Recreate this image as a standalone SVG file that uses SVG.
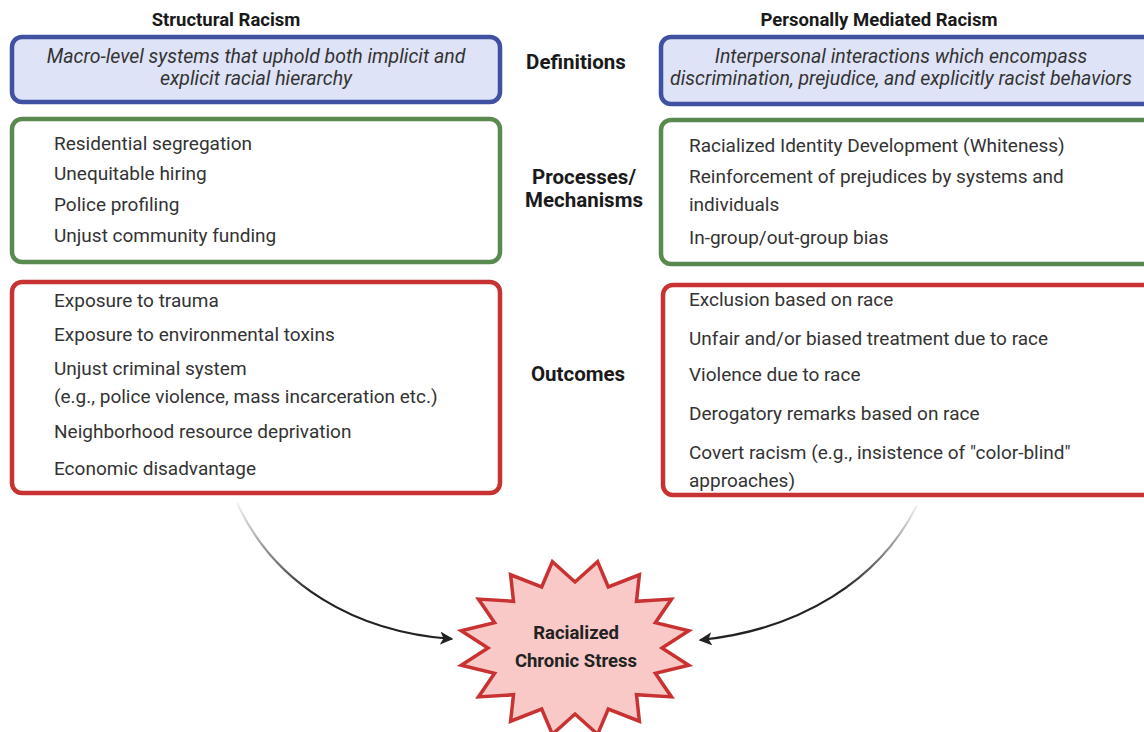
<svg xmlns="http://www.w3.org/2000/svg" width="1144" height="732" viewBox="0 0 1144 732">
<style>
.title{font-family:Roboto,"Liberation Sans",sans-serif;font-weight:bold;font-size:18.5px;fill:#1a1a1a;text-anchor:middle}
.mid{font-family:Roboto,"Liberation Sans",sans-serif;font-weight:bold;font-size:20.5px;fill:#1a1a1a;text-anchor:middle}
.it{font-family:Roboto,"Liberation Sans",sans-serif;font-style:italic;font-size:19.5px;fill:#333;text-anchor:middle}
.item{font-family:Roboto,"Liberation Sans",sans-serif;font-size:19px;fill:#333}
.blue{fill:#dfe3f7;stroke:#3f51a0;stroke-width:4.5}
.green{fill:#fff;stroke:#5a8a50;stroke-width:4.5}
.red{fill:#fff;stroke:#c83232;stroke-width:4.5}
.star{fill:#f8c9c6;stroke:#c83232;stroke-width:3.5;stroke-linejoin:miter}
.stxt{font-family:Roboto,"Liberation Sans",sans-serif;font-weight:bold;font-size:18.5px;fill:#222;text-anchor:middle}
.arr{fill:none;stroke-width:2.2}
</style>
<defs>
<marker id="ah" viewBox="0 0 10 10" refX="9" refY="5" markerWidth="6" markerHeight="6" orient="auto" markerUnits="strokeWidth">
<path d="M0,0 L10,5 L0,10 L2.5,5 Z" fill="#222"/>
</marker>
<linearGradient id="gl" gradientUnits="userSpaceOnUse" x1="237" y1="503" x2="320" y2="590">
<stop offset="0" stop-color="#f2f2f2"/><stop offset="1" stop-color="#222"/>
</linearGradient>
<linearGradient id="gr" gradientUnits="userSpaceOnUse" x1="917" y1="505" x2="845" y2="590">
<stop offset="0" stop-color="#f2f2f2"/><stop offset="1" stop-color="#222"/>
</linearGradient>
</defs>
<rect width="1144" height="732" fill="#fff"/>

<g id="headers">
<text class="title" x="226" y="26">Structural Racism</text>
<text class="title" x="879" y="26">Personally Mediated Racism</text>
</g>

<g id="labels">
<text class="mid" x="576" y="69">Definitions</text>
<text class="mid" x="584" y="184">Processes/</text>
<text class="mid" x="584" y="207">Mechanisms</text>
<text class="mid" x="578" y="381">Outcomes</text>
</g>

<g id="structural-definition">
<rect class="blue" x="12" y="37" width="488" height="65" rx="10"/>
<text class="it" x="256" y="63">Macro-level systems that uphold both implicit and</text>
<text class="it" x="256" y="85">explicit racial hierarchy</text>
</g>

<g id="personal-definition">
<rect class="blue" x="661" y="37" width="500" height="67" rx="10"/>
<text class="it" x="901" y="63">Interpersonal interactions which encompass</text>
<text class="it" x="901" y="85">discrimination, prejudice, and explicitly racist behaviors</text>
</g>

<g id="structural-processes">
<rect class="green" x="12" y="119" width="488" height="143" rx="10"/>
<text class="item" x="54" y="150">Residential segregation</text>
<text class="item" x="54" y="180">Unequitable hiring</text>
<text class="item" x="54" y="211">Police profiling</text>
<text class="item" x="54" y="242">Unjust community funding</text>
</g>

<g id="personal-processes">
<rect class="green" x="661" y="120" width="500" height="144" rx="10"/>
<text class="item" x="689" y="152">Racialized Identity Development (Whiteness)</text>
<text class="item" x="689" y="183">Reinforcement of prejudices by systems and</text>
<text class="item" x="689" y="211">individuals</text>
<text class="item" x="689" y="244">In-group/out-group bias</text>
</g>

<g id="structural-outcomes">
<rect class="red" x="12" y="282" width="488" height="211" rx="10"/>
<text class="item" x="54" y="307">Exposure to trauma</text>
<text class="item" x="54" y="341">Exposure to environmental toxins</text>
<text class="item" x="54" y="375">Unjust criminal system</text>
<text class="item" x="54" y="403">(e.g., police violence, mass incarceration etc.)</text>
<text class="item" x="54" y="438">Neighborhood resource deprivation</text>
<text class="item" x="54" y="475">Economic disadvantage</text>
</g>

<g id="personal-outcomes">
<rect class="red" x="663" y="285" width="500" height="210" rx="10"/>
<text class="item" x="689" y="306">Exclusion based on race</text>
<text class="item" x="689" y="345">Unfair and/or biased treatment due to race</text>
<text class="item" x="689" y="381">Violence due to race</text>
<text class="item" x="689" y="420">Derogatory remarks based on race</text>
<text class="item" x="689" y="459">Covert racism (e.g., insistence of "color-blind"</text>
<text class="item" x="689" y="487">approaches)</text>
</g>

<g id="connectors">
<path class="arr" stroke="url(#gl)" d="M237,503 C275,585 355,632 452,639" marker-end="url(#ah)"/>
<path class="arr" stroke="url(#gr)" d="M917,505 C880,580 800,630 700,640" marker-end="url(#ah)"/>
</g>

<g id="chronic-stress">
<polygon class="star" points="662,648 688.8,665.2 655.4,673.3 671.5,696.9 636.5,694.7 639.4,721.2 608.3,709 597.6,734.3 575,714 552.4,734.3 541.7,709 510.6,721.2 513.5,694.7 478.5,696.9 494.6,673.3 461.2,665.2 488,648 461.2,630.8 494.6,622.7 478.5,599.1 513.5,601.3 510.6,574.8 541.7,587 552.4,561.7 575,582 597.6,561.7 608.3,587 639.4,574.8 636.5,601.3 671.5,599.1 655.4,622.7 688.8,630.8"/>
<text class="stxt" x="576" y="639">Racialized</text>
<text class="stxt" x="576" y="667">Chronic Stress</text>
</g>
</svg>
